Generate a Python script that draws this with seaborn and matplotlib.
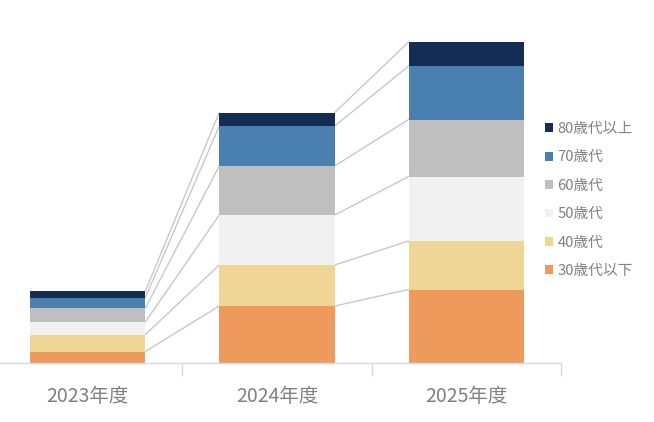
import numpy as np
import matplotlib
matplotlib.use("Agg")
import matplotlib.pyplot as plt
import seaborn as sns
from matplotlib.patches import Patch

# data
years = ["2023年度", "2024年度", "2025年度"]
groups = ["30歳代以下", "40歳代", "50歳代", "60歳代", "70歳代", "80歳代以上"]
v30 = [11, 56.5, 73]
v40 = [17, 41, 48.5]
v50 = [12.5, 50, 64.5]
v60 = [14, 49, 57]
v70 = [10.5, 40, 53.5]
v80 = [6.5, 13.5, 24]
colors = ["#EE9A5D", "#EFD596", "#F1F1F1", "#BFBFBF", "#4A80B0", "#132D55"]

sns.set_theme(style="white")
plt.rcParams["font.family"] = ["Noto Sans CJK JP", "DejaVu Sans"]
txt = "#808080"
grid = "#d9d9d9"

vals = np.array([v30, v40, v50, v60, v70, v80])
cum = np.cumsum(vals, axis=0)
bw = 0.61

fig = plt.figure(figsize=(6.54, 4.22), dpi=100)
ax = fig.add_axes([0, 59.5 / 422, 561 / 654, 332.5 / 422])

# draw cumulative totals from the top layer down so lower layers overlay
for k in range(len(groups) - 1, -1, -1):
    sns.barplot(x=years, y=cum[k], color=colors[k], saturation=1,
                width=bw, ax=ax, linewidth=0)

# connector lines between segment tops
for i in range(len(years) - 1):
    for k in range(len(groups)):
        ax.plot([i + bw / 2, i + 1 - bw / 2], [cum[k][i], cum[k][i + 1]],
                color="#c8c8c8", lw=1, zorder=0.5)

ax.set_xlim(-0.5 + 7 / 189, 2.5)
ax.set_ylim(0, 332.5)
ax.set_xlabel("")
ax.set_ylabel("")
ax.set_yticks([])
for s in ["top", "right", "left"]:
    ax.spines[s].set_visible(False)
ax.spines["bottom"].set_color(grid)
ax.spines["bottom"].set_linewidth(1)
ax.tick_params(axis="x", which="major", length=0, pad=17, labelsize=14, labelcolor=txt)
ax.set_xticks([0.5, 1.5, 2.5], minor=True)
ax.tick_params(axis="x", which="minor", length=9, width=1, color=grid, bottom=True)

handles = [Patch(facecolor=colors[k], edgecolor="none", label=groups[k])
           for k in range(len(groups) - 1, -1, -1)]
leg = fig.legend(handles=handles, loc="upper left", bbox_to_anchor=(539 / 654, 1 - 116 / 422),
                 frameon=False, fontsize=10.6, handlelength=0.55, handleheight=0.55,
                 handletextpad=0.3, labelspacing=0.98, borderaxespad=0)
for t in leg.get_texts():
    t.set_color(txt)

fig.savefig("out.png", dpi=100)
